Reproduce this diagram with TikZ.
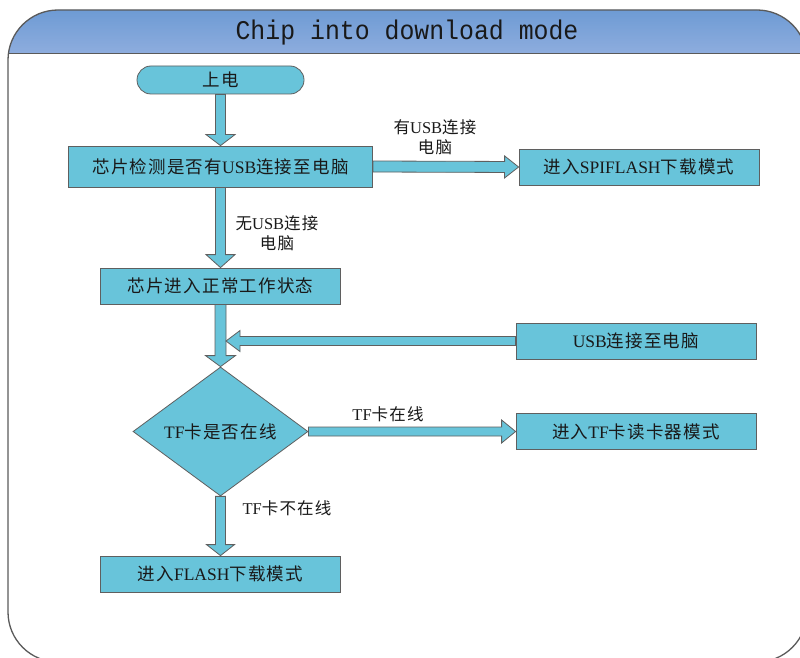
\documentclass[tikz,border=0pt]{standalone}
\usepackage{fontspec}
\setmainfont{Liberation Serif}
\newfontfamily\cjk[LetterSpace=7]{Noto Sans CJK SC}
\newfontfamily\titlefont{Liberation Mono}
\usetikzlibrary{calc,shapes.geometric}
\pgfdeclarelayer{back}
\pgfdeclarelayer{bg}
\pgfsetlayers{back,bg,main}
\definecolor{boxfill}{RGB}{104,196,218}
\definecolor{boxline}{RGB}{95,95,95}
\definecolor{hdrtop}{RGB}{110,155,212}
\definecolor{hdrbot}{RGB}{142,173,222}
\definecolor{framegray}{RGB}{90,90,90}
\definecolor{txt}{RGB}{25,25,25}
\newcommand\zh[1]{{\cjk #1}}
% start, end, half shaft, half head, head length
\newcommand\fatarrow[5]{%
  \coordinate (hb) at ($#2!#5!#1$);
  \filldraw[fill=boxfill,draw=boxline,line width=0.8pt,line join=miter]
    ($#1!#3!90:#2$) -- ($(hb)!#3!90:#2$) -- ($(hb)!#4!90:#2$) -- #2 --
    ($(hb)!#4!-90:#2$) -- ($(hb)!#3!-90:#2$) -- ($#1!#3!-90:#2$) -- cycle;}
\begin{document}
\begin{tikzpicture}[x=1pt,y=-1pt,
  box/.style={draw=boxline,fill=boxfill,line width=0.8pt,minimum width=240,minimum height=36,inner sep=2pt,text=txt,font=\fontsize{17.5}{19}\selectfont},
  term/.style={box,rounded corners=14pt,minimum width=167,minimum height=28},
  dec/.style={box,shape=diamond,minimum width=175,minimum height=83,inner sep=0pt},
  lbl/.style={text=txt,align=center,inner sep=0pt,font=\fontsize{16.5}{20}\selectfont}]
\useasboundingbox (0,0) rectangle (800,658);
\clip (0,0) rectangle (800,658);
% frame and header
\begin{pgfonlayer}{back}
  \fill[white] (8,10) [rounded corners=50pt] rectangle (807,662);
  \begin{scope}
    \clip[rounded corners=50pt] (8,10) rectangle (807,662);
    \shade[top color=hdrtop,bottom color=hdrbot] (8,10) rectangle (807,54);
  \end{scope}
  \draw[framegray,line width=1pt] (8,54) -- (807,54);
  \draw[framegray,line width=1.3pt,rounded corners=50pt] (8,10) rectangle (807,662);
\end{pgfonlayer}
\node[text=txt,inner sep=0pt,font=\titlefont\fontsize{27}{27}\selectfont] (title) at (407,33) {\scalebox{0.92}[1]{Chip into download mode}};
% nodes
\node[term] (up) at (220.5,80) {\zh{上电}};
\node[box,minimum width=304,minimum height=41] (chip) at (220.5,166.5) {\zh{芯片检测是否有}USB\zh{连接至电脑}};
\node[box] (spi) at (639,167) {\zh{进入}SPIFLASH\zh{下载模式}};
\node[box] (norm) at (220.5,286) {\zh{芯片进入正常工作状态}};
\node[box] (usb) at (636,341) {USB\zh{连接至电脑}};
\node[dec] (tfq) at (220.5,431.5) {TF\zh{卡是否在线}};
\node[box] (tfr) at (636,431.5) {\zh{进入}TF\zh{卡读卡器模式}};
\node[box] (flash) at (220.5,574) {\zh{进入}FLASH\zh{下载模式}};
\coordinate (j) at (226,341);
% labels
\node[lbl] (l1) at (435,137) {\zh{有}USB\zh{连接}\\\zh{电脑}};
\node[lbl] (l2) at (277,233) {\zh{无}USB\zh{连接}\\\zh{电脑}};
\node[lbl] (l3) at (388,414) {TF\zh{卡在线}};
\node[lbl] (l4) at (287,508) {TF\zh{卡不在线}};
% block arrows
\begin{pgfonlayer}{bg}
  \fatarrow{(up.south)}{(chip.north)}{5pt}{14.5pt}{11pt}
  \fatarrow{(chip.south)}{(norm.north)}{5pt}{14.5pt}{13pt}
  \fatarrow{(chip.east)}{(spi.west)}{5.5pt}{11pt}{14pt}
  \fatarrow{(norm.south)}{(tfq.north)}{5.5pt}{15pt}{11pt}
  \fatarrow{(usb.west)}{(j)}{4.5pt}{10.5pt}{14pt}
  \fatarrow{(tfq.east)}{(tfr.west)}{4.5pt}{11.5pt}{14pt}
  \fatarrow{(tfq.south)}{(flash.north)}{5pt}{14pt}{11pt}
\end{pgfonlayer}
\end{tikzpicture}
\end{document}
